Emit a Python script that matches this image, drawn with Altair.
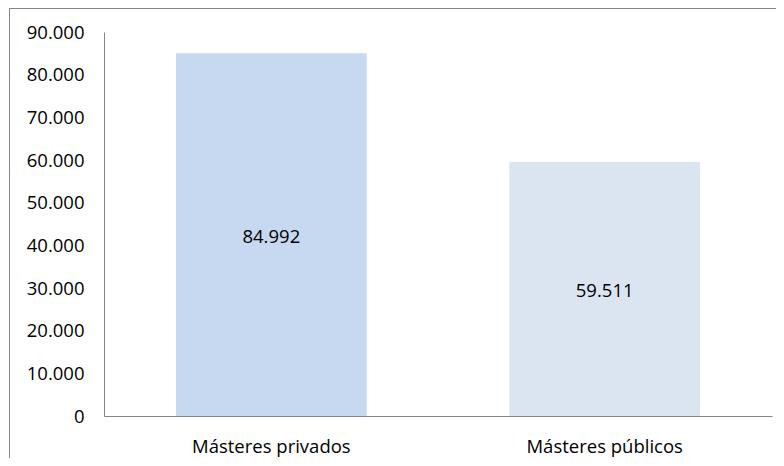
import altair as alt
import pandas as pd

categories = ["Másteres privados", "Másteres públicos"]
values = [84992, 59511]
colors = ["#C6D9F1", "#DBE5F1"]
y_ticks = [0, 10000, 20000, 30000, 40000, 50000, 60000, 70000, 80000, 90000]

df = pd.DataFrame({"cat": categories, "val": values, "col": colors})

FONT = "Open Sans"
FS = 18.5
GRAY = "#868686"

W, H = 668, 384
PAD_L, PAD_T, PAD_R, PAD_B = 96, 24, 4, 42

x_enc = alt.X(
    "cat:N",
    sort=categories,
    scale=alt.Scale(paddingInner=0.428, paddingOuter=0.216),
    axis=alt.Axis(
        title=None, labelAngle=0, ticks=False, domainColor=GRAY, domainWidth=1,
        labelFont=FONT, labelFontSize=FS, labelColor="#000000", labelPadding=21,
    ),
)
y_enc = alt.Y(
    "val:Q",
    scale=alt.Scale(domain=[0, 90000], nice=False),
    axis=alt.Axis(
        title=None, values=y_ticks, grid=False, ticks=False, domainColor=GRAY,
        domainWidth=1, labelFont=FONT, labelFontSize=FS, labelColor="#000000",
        labelPadding=20,
        labelExpr="replace(format(datum.value, ','), ',', '.')",
    ),
)

base = alt.Chart(df)

bars = base.mark_bar().encode(
    x=x_enc,
    y=y_enc,
    color=alt.Color("col:N", scale=None),
)

labels = base.transform_calculate(
    lab="replace(format(datum.val, ','), ',', '.')",
    mid="datum.val / 2",
).mark_text(font=FONT, fontSize=FS, color="#000000", baseline="middle", dy=2).encode(
    x=alt.X("cat:N", sort=categories),
    y=alt.Y("mid:Q"),
    text="lab:N",
)

border_top = alt.Chart(df).mark_rule(color=GRAY, strokeWidth=1).encode(
    x=alt.value(-PAD_L + 1.5), x2=alt.value(W + PAD_R), y=alt.value(-PAD_T + 0.5)
)
border_left = alt.Chart(df).mark_rule(color=GRAY, strokeWidth=1).encode(
    x=alt.value(-PAD_L + 1.5), y=alt.value(-PAD_T + 0.5), y2=alt.value(H + PAD_B)
)

chart = alt.layer(bars, labels, border_top, border_left).properties(
    width=W,
    height=H,
    padding={"left": PAD_L, "top": PAD_T, "right": PAD_R, "bottom": PAD_B},
    autosize=alt.AutoSizeParams(type="none"),
    background="#FFFFFF",
).configure_view(stroke=None)

chart.save("out.html", embed_options={"renderer": "svg", "actions": False})
